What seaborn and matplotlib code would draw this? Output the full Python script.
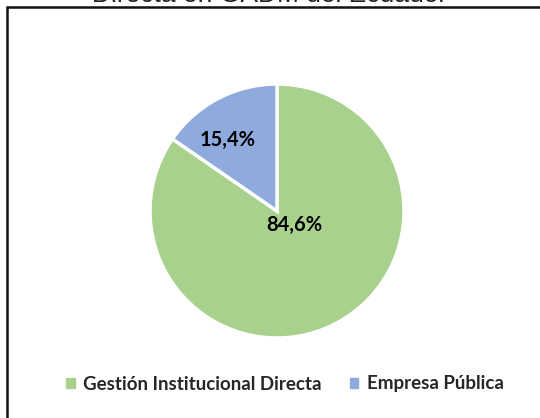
import matplotlib
matplotlib.use("Agg")
import matplotlib.pyplot as plt
import matplotlib.patches as mpatches
import seaborn as sns

categories = ["Gestión Institucional Directa", "Empresa Pública"]
shares = [84.6, 15.4]
pct_labels = ["84,6%", "15,4%"]
title_text = "Directa en GADM del Ecuador"

colors = ["#A9D18E", "#8FAADC"]

sns.set_theme(style="white")
plt.rcParams["font.family"] = ["Lato", "DejaVu Sans"]

W, H = 540, 418
fig = plt.figure(figsize=(W / 100, H / 100), dpi=100)

# chart frame (only top and left edges fall inside the crop)
frame = mpatches.Rectangle((7 / W, -0.2), 1.2, 1.2 - 7 / H,
                           transform=fig.transFigure, fill=False,
                           edgecolor="#111111", linewidth=1.8, clip_on=False)
fig.patches.append(frame)

# title sits above the crop, only its lower edge shows
fig.text(0.5, 1 - 1.8 / H, title_text, ha="center", va="baseline",
         fontsize=19, family=["Liberation Sans", "DejaVu Sans"], color="#222222")

cx, cy, r = 277, 211, 127
ax = fig.add_axes([(cx - r) / W, (H - cy - r) / H, 2 * r / W, 2 * r / H])
wedges, _ = ax.pie(shares, colors=colors, startangle=90, counterclock=False,
                   wedgeprops=dict(edgecolor="white", linewidth=2.5))
ax.set_xlim(-1, 1)
ax.set_ylim(-1, 1)
ax.set_aspect("equal")
ax.axis("off")

# Excel places the big label off-centre
label_pos = [(0.14, -0.11), (-0.39, 0.56)]
for txt, (x, y) in zip(pct_labels, label_pos):
    ax.text(x, y, txt, ha="center", va="center", fontsize=14.5,
            fontweight="bold", color="black")

handles = [mpatches.Patch(color=c, label=l) for c, l in zip(colors, categories)]
fig.legend(handles=handles, loc="center", bbox_to_anchor=(0.528, 1 - 384 / H),
           ncol=2, frameon=False, handlelength=0.45, handleheight=0.45,
           handletextpad=0.45, columnspacing=1.5,
           prop=dict(family=["Lato", "DejaVu Sans"], weight="bold", size=13.5))

fig.savefig("out.png", dpi=100)
